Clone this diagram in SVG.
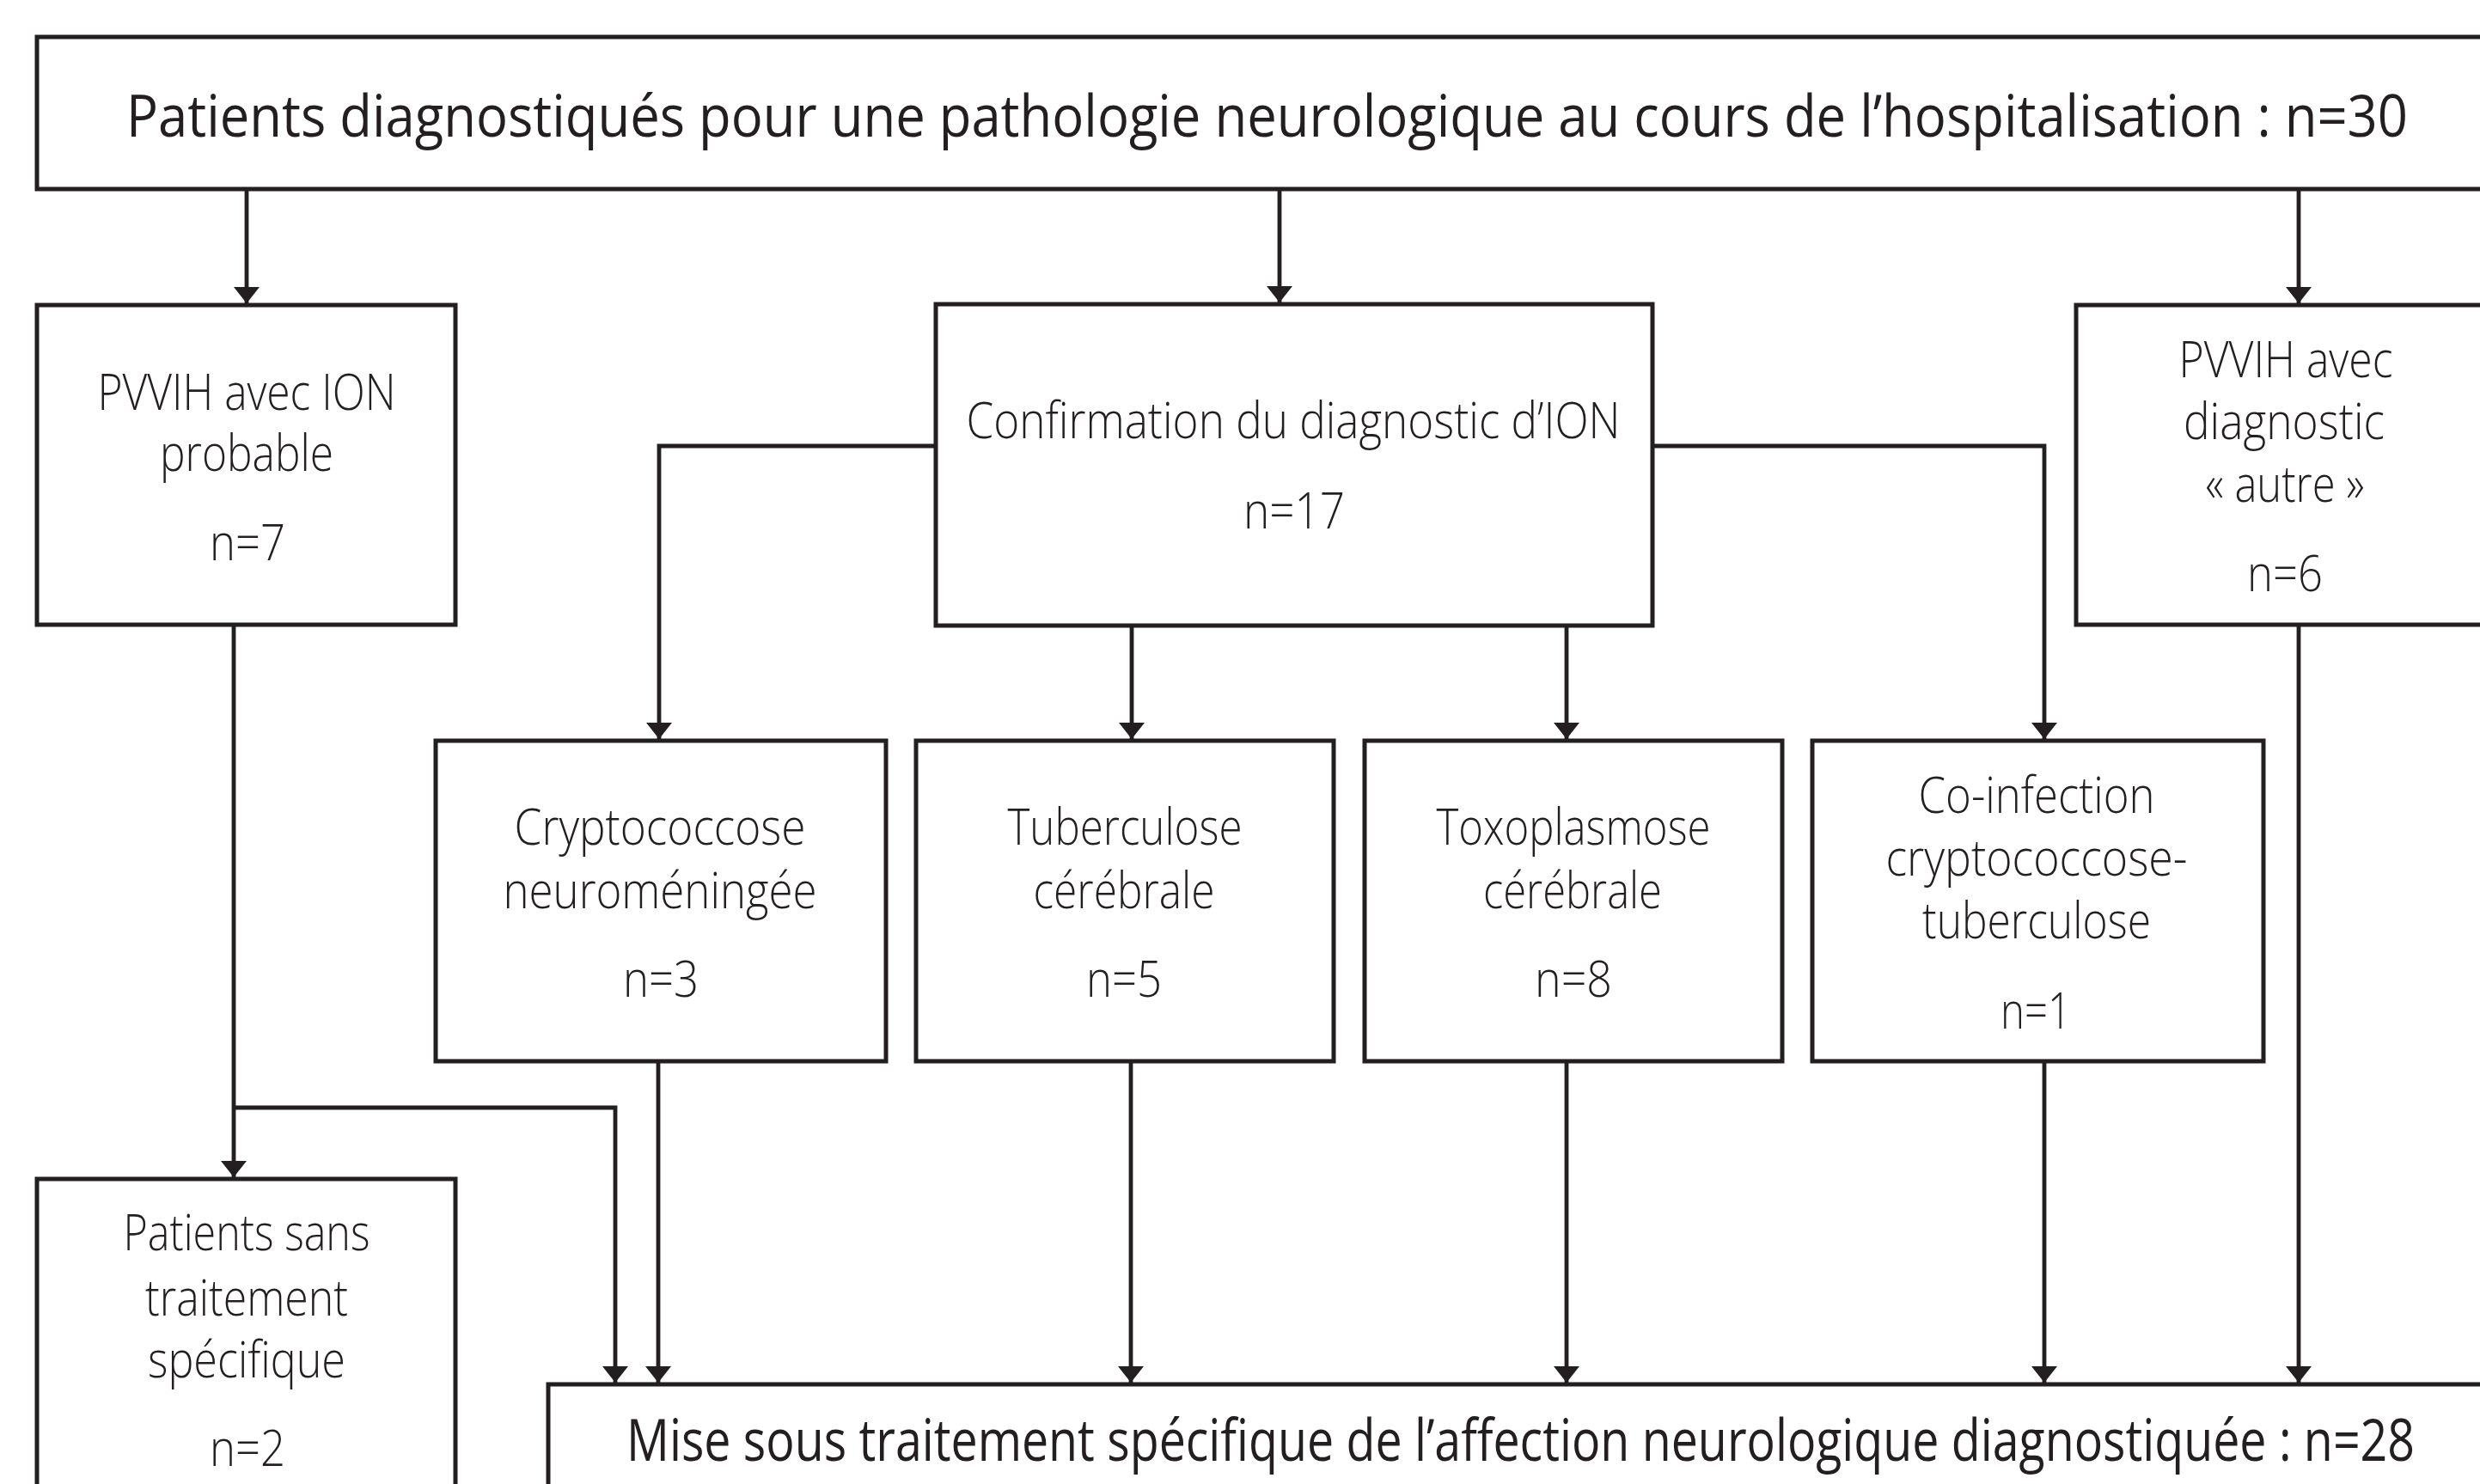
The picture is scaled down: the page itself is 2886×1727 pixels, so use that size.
<svg xmlns="http://www.w3.org/2000/svg" width="2886" height="1727" viewBox="0 0 2886 1727">
<style>
.box{fill:#ffffff;stroke:#231f20;stroke-width:5}
.con{fill:none;stroke:#231f20;stroke-width:4.8}
.big{font-family:"Open Sans","Liberation Sans",sans-serif;font-weight:500;font-size:67px;fill:#231f20}
.lt{font-family:"Open Sans","Lato","Liberation Sans",sans-serif;font-weight:300;font-size:58px;fill:#231f20;text-anchor:middle}
</style>
<defs>
<marker id="arr" markerUnits="userSpaceOnUse" markerWidth="19" markerHeight="30" viewBox="0 0 19 30" refX="19" refY="15" orient="auto">
<path d="M0,0 L19,15 L0,30 z" fill="#231f20"/>
</marker>
</defs>
<rect width="2886" height="1727" fill="#ffffff"/>
<g id="connectors">
<path class="con" d="M287,220 V353" marker-end="url(#arr)"/>
<path class="con" d="M1489,220 V352" marker-end="url(#arr)"/>
<path class="con" d="M2675,220 V353" marker-end="url(#arr)"/>
<path class="con" d="M1089,519 H767 V860" marker-end="url(#arr)"/>
<path class="con" d="M1317,728 V860" marker-end="url(#arr)"/>
<path class="con" d="M1823,728 V860" marker-end="url(#arr)"/>
<path class="con" d="M1923,519 H2379 V860" marker-end="url(#arr)"/>
<path class="con" d="M272,727 V1370" marker-end="url(#arr)"/>
<path class="con" d="M272,1289 H716 V1609" marker-end="url(#arr)"/>
<path class="con" d="M766,1235 V1609" marker-end="url(#arr)"/>
<path class="con" d="M1316,1235 V1609" marker-end="url(#arr)"/>
<path class="con" d="M1823,1235 V1609" marker-end="url(#arr)"/>
<path class="con" d="M2379,1235 V1609" marker-end="url(#arr)"/>
<path class="con" d="M2675,727 V1609" marker-end="url(#arr)"/>
</g>
<g id="n_top">
<rect class="box" x="43" y="43" width="2900" height="177"/>
<text class="big" x="147" y="159" textLength="2655" lengthAdjust="spacingAndGlyphs">Patients diagnostiqués pour une pathologie neurologique au cours de l’hospitalisation : n=30</text>
</g>
<g id="n_pvvih_ion">
<rect class="box" x="43" y="355" width="487" height="372"/>
<text class="lt" x="287" y="477" textLength="347" lengthAdjust="spacingAndGlyphs">PVVIH avec ION</text>
<text class="lt" x="287" y="548" textLength="202" lengthAdjust="spacingAndGlyphs">probable</text>
<text class="lt" x="288" y="652" textLength="88" lengthAdjust="spacingAndGlyphs">n=7</text>
</g>
<g id="n_confirmation">
<rect class="box" x="1089" y="354" width="834" height="374"/>
<text class="lt" x="1505" y="510" textLength="761" lengthAdjust="spacingAndGlyphs">Confirmation du diagnostic d’ION</text>
<text class="lt" x="1506" y="615" textLength="118" lengthAdjust="spacingAndGlyphs">n=17</text>
</g>
<g id="n_pvvih_autre">
<rect class="box" x="2416" y="355" width="520" height="372"/>
<text class="lt" x="2660" y="439" textLength="249" lengthAdjust="spacingAndGlyphs">PVVIH avec</text>
<text class="lt" x="2658" y="511" textLength="234" lengthAdjust="spacingAndGlyphs">diagnostic</text>
<text class="lt" x="2659" y="584" textLength="185" lengthAdjust="spacingAndGlyphs">« autre »</text>
<text class="lt" x="2659" y="688" textLength="88" lengthAdjust="spacingAndGlyphs">n=6</text>
</g>
<g id="n_crypto">
<rect class="box" x="507" y="862" width="524" height="373"/>
<text class="lt" x="768" y="983" textLength="339" lengthAdjust="spacingAndGlyphs">Cryptococcose</text>
<text class="lt" x="768" y="1057" textLength="365" lengthAdjust="spacingAndGlyphs">neuroméningée</text>
<text class="lt" x="769" y="1160" textLength="88" lengthAdjust="spacingAndGlyphs">n=3</text>
</g>
<g id="n_tuber">
<rect class="box" x="1066" y="862" width="486" height="373"/>
<text class="lt" x="1309" y="983" textLength="273" lengthAdjust="spacingAndGlyphs">Tuberculose</text>
<text class="lt" x="1308" y="1057" textLength="211" lengthAdjust="spacingAndGlyphs">cérébrale</text>
<text class="lt" x="1308" y="1160" textLength="88" lengthAdjust="spacingAndGlyphs">n=5</text>
</g>
<g id="n_toxo">
<rect class="box" x="1588" y="862" width="486" height="373"/>
<text class="lt" x="1831" y="983" textLength="319" lengthAdjust="spacingAndGlyphs">Toxoplasmose</text>
<text class="lt" x="1830" y="1057" textLength="208" lengthAdjust="spacingAndGlyphs">cérébrale</text>
<text class="lt" x="1831" y="1160" textLength="90" lengthAdjust="spacingAndGlyphs">n=8</text>
</g>
<g id="n_coinf">
<rect class="box" x="2109" y="862" width="525" height="373"/>
<text class="lt" x="2370" y="946" textLength="275" lengthAdjust="spacingAndGlyphs">Co-infection</text>
<text class="lt" x="2370" y="1019" textLength="351" lengthAdjust="spacingAndGlyphs">cryptococcose-</text>
<text class="lt" x="2370" y="1092" textLength="266" lengthAdjust="spacingAndGlyphs">tuberculose</text>
<text class="lt" x="2369" y="1197" textLength="82" lengthAdjust="spacingAndGlyphs">n=1</text>
</g>
<g id="n_sans">
<rect class="box" x="43" y="1372" width="487" height="400"/>
<text class="lt" x="287" y="1455" textLength="287" lengthAdjust="spacingAndGlyphs">Patients sans</text>
<text class="lt" x="287" y="1531" textLength="236" lengthAdjust="spacingAndGlyphs">traitement</text>
<text class="lt" x="287" y="1603" textLength="230" lengthAdjust="spacingAndGlyphs">spécifique</text>
<text class="lt" x="288" y="1706" textLength="88" lengthAdjust="spacingAndGlyphs">n=2</text>
</g>
<g id="n_mise">
<rect class="box" x="638" y="1611" width="2300" height="200"/>
<text class="big" x="729" y="1700" font-size="64" textLength="2081" lengthAdjust="spacingAndGlyphs">Mise sous traitement spécifique de l’affection neurologique diagnostiquée : n=28</text>
</g>
</svg>
